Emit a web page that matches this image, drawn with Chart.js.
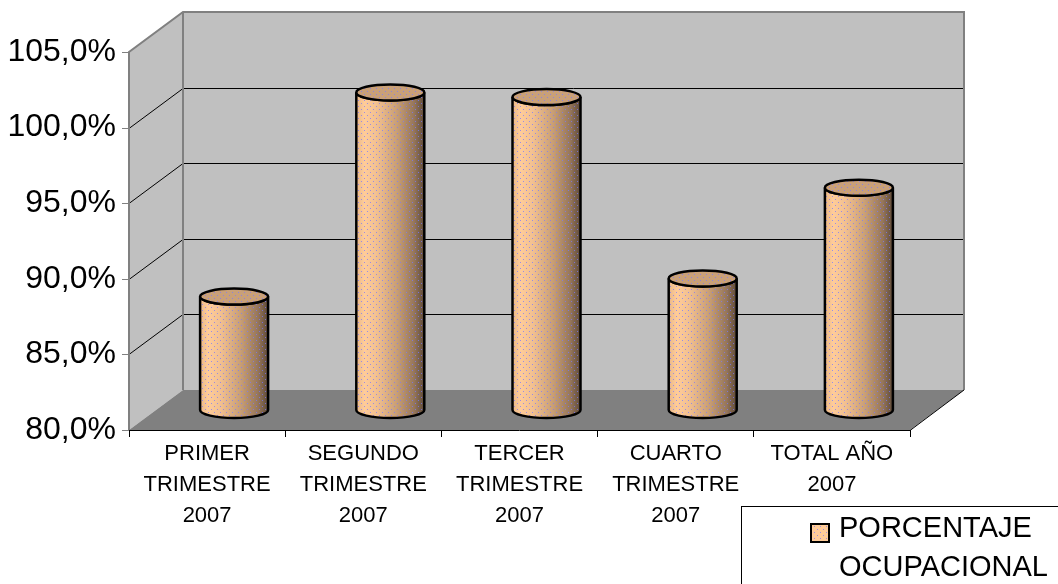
<!DOCTYPE html>
<html>
<head>
<meta charset="utf-8">
<script src="https://cdn.jsdelivr.net/npm/chart.js@4/dist/chart.umd.min.js"></script>
<style>
  body { margin: 0; background: #fff; }
  canvas { display: block; }
</style>
</head>
<body>
<canvas id="grafico" width="1058" height="584"></canvas>
<script>
const categorias = [
    ['PRIMER', 'TRIMESTRE', '2007'],
    ['SEGUNDO', 'TRIMESTRE', '2007'],
    ['TERCER', 'TRIMESTRE', '2007'],
    ['CUARTO', 'TRIMESTRE', '2007'],
    ['TOTAL AÑO', '2007']
];
const porcentaje = [87.5, 101.0, 100.7, 88.7, 94.7];
const nombreSerie = 'PORCENTAJE OCUPACIONAL';
const ejeMin = 80, ejeMax = 105, ejePaso = 5;

// profundidad del efecto 3D
const DX = 54, DY = -40;
const FUENTE = '"Liberation Sans", Arial, sans-serif';

const fmtPct = v => v.toFixed(1).replace('.', ',') + '%';

let patronPuntos = null;
function getPatron(ctx) {
    if (patronPuntos) return patronPuntos;
    const c = document.createElement('canvas');
    c.width = 6; c.height = 6;
    const g = c.getContext('2d');
    g.fillStyle = 'rgba(120,120,255,0.75)';
    g.fillRect(1, 1, 1, 1);
    g.fillRect(4, 4, 1, 1);
    patronPuntos = ctx.createPattern(c, 'repeat');
    return patronPuntos;
}

const paredes3D = {
    id: 'paredes3D',
    beforeDatasetsDraw(chart) {
        const ctx = chart.ctx, a = chart.chartArea, y = chart.scales.y;
        const L = a.left, R = a.right, T = a.top, B = a.bottom;
        ctx.save();
        // pared de fondo
        ctx.fillStyle = '#c0c0c0';
        ctx.fillRect(L + DX, T + DY, R - L, B - T);
        // pared lateral
        ctx.beginPath();
        ctx.moveTo(L, T); ctx.lineTo(L + DX, T + DY); ctx.lineTo(L + DX, B + DY); ctx.lineTo(L, B); ctx.closePath();
        ctx.fill();
        // lineas de division
        ctx.strokeStyle = '#000'; ctx.lineWidth = 1;
        for (let v = ejeMin + ejePaso; v < ejeMax; v += ejePaso) {
            const py = Math.round(y.getPixelForValue(v)) + 0.5;
            ctx.beginPath();
            ctx.moveTo(L, py); ctx.lineTo(L + DX, py + DY); ctx.lineTo(R + DX, py + DY);
            ctx.stroke();
        }
        // bordes grises
        ctx.strokeStyle = '#808080'; ctx.lineWidth = 2;
        ctx.beginPath();
        ctx.moveTo(L, B); ctx.lineTo(L, T); ctx.lineTo(L + DX, T + DY); ctx.lineTo(R + DX, T + DY); ctx.lineTo(R + DX, B + DY);
        ctx.moveTo(L + DX, T + DY); ctx.lineTo(L + DX, B + DY);
        ctx.stroke();
        // piso
        ctx.fillStyle = '#808080';
        ctx.beginPath();
        ctx.moveTo(L, B); ctx.lineTo(R, B); ctx.lineTo(R + DX, B + DY); ctx.lineTo(L + DX, B + DY); ctx.closePath();
        ctx.fill();
        ctx.strokeStyle = '#000'; ctx.lineWidth = 1;
        ctx.beginPath();
        ctx.moveTo(L, B + 0.5); ctx.lineTo(R, B + 0.5); ctx.lineTo(R + DX, B + DY);
        ctx.stroke();
        // marcas del eje y
        ctx.strokeStyle = '#808080';
        for (let v = ejeMin; v <= ejeMax; v += ejePaso) {
            const py = Math.round(y.getPixelForValue(v)) + 0.5;
            ctx.beginPath(); ctx.moveTo(L - 7, py); ctx.lineTo(L, py); ctx.stroke();
        }
        ctx.restore();
    },
    afterDatasetsDraw(chart) {
        const ctx = chart.ctx, y = chart.scales.y;
        const meta = chart.getDatasetMeta(0);
        const base = y.getPixelForValue(ejeMin) + DY / 2;
        ctx.save();
        meta.data.forEach(bar => {
            const cx = bar.x + DX / 2;
            const top = bar.y + DY / 2;
            const rx = 34, ry = 8;
            const grad = ctx.createLinearGradient(cx - rx, 0, cx + rx, 0);
            grad.addColorStop(0, '#e9b888');
            grad.addColorStop(0.12, '#ffcc99');
            grad.addColorStop(0.3, '#f2c090');
            grad.addColorStop(0.6, '#c89e74');
            grad.addColorStop(0.85, '#96765a');
            grad.addColorStop(1, '#5e4a38');
            ctx.beginPath();
            ctx.moveTo(cx - rx, top);
            ctx.lineTo(cx - rx, base);
            ctx.ellipse(cx, base, rx, ry, 0, Math.PI, 0, true);
            ctx.lineTo(cx + rx, top);
            ctx.ellipse(cx, top, rx, ry, 0, 0, Math.PI, false);
            ctx.closePath();
            ctx.fillStyle = grad; ctx.fill();
            ctx.fillStyle = getPatron(ctx); ctx.fill();
            ctx.lineWidth = 2.5; ctx.strokeStyle = '#000'; ctx.stroke();
            // tapa
            ctx.beginPath();
            ctx.ellipse(cx, top, rx, ry, 0, 0, Math.PI * 2);
            ctx.fillStyle = '#c9a078'; ctx.fill();
            ctx.fillStyle = getPatron(ctx); ctx.fill();
            ctx.stroke();
        });
        ctx.restore();
    },
    afterDraw(chart) {
        const ctx = chart.ctx;
        ctx.save();
        // leyenda
        ctx.strokeStyle = '#000'; ctx.lineWidth = 1;
        ctx.strokeRect(741.5, 506.5, 400, 200);
        ctx.fillStyle = '#ffcc99';
        ctx.fillRect(811, 524, 18, 18);
        ctx.fillStyle = getPatron(ctx);
        ctx.fillRect(811, 524, 18, 18);
        ctx.lineWidth = 2; ctx.strokeRect(811, 524, 18, 18);
        ctx.fillStyle = '#000';
        ctx.font = '29px ' + FUENTE;
        ctx.textBaseline = 'alphabetic';
        const partes = nombreSerie.split(' ');
        ctx.fillText(partes[0], 839, 537);
        ctx.fillText(partes[1], 839, 576);
        ctx.restore();
    }
};

new Chart(document.getElementById('grafico'), {
    type: 'bar',
    data: {
        labels: categorias,
        datasets: [{
            label: nombreSerie,
            data: porcentaje,
            backgroundColor: 'rgba(0,0,0,0)',
            borderWidth: 0
        }]
    },
    options: {
        responsive: false,
        animation: false,
        devicePixelRatio: 1,
        layout: { padding: { top: 52, right: 148, left: 0, bottom: 0 } },
        plugins: { legend: { display: false }, tooltip: { enabled: false } },
        scales: {
            y: {
                min: ejeMin, max: ejeMax,
                afterFit(s) { s.width = 129; },
                border: { display: false },
                grid: { display: false },
                ticks: {
                    stepSize: ejePaso,
                    padding: 5,
                    color: '#000',
                    font: { family: FUENTE, size: 32 },
                    callback: v => fmtPct(v)
                }
            },
            x: {
                afterFit(s) { s.height = 154; },
                border: { display: false },
                grid: { drawOnChartArea: false, drawTicks: true, tickLength: 7, color: '#000', offset: true },
                ticks: {
                    padding: 2,
                    color: '#000',
                    maxRotation: 0,
                    font: { family: FUENTE, size: 22, lineHeight: 1.4 }
                }
            }
        }
    },
    plugins: [paredes3D]
});
</script>
</body>
</html>
